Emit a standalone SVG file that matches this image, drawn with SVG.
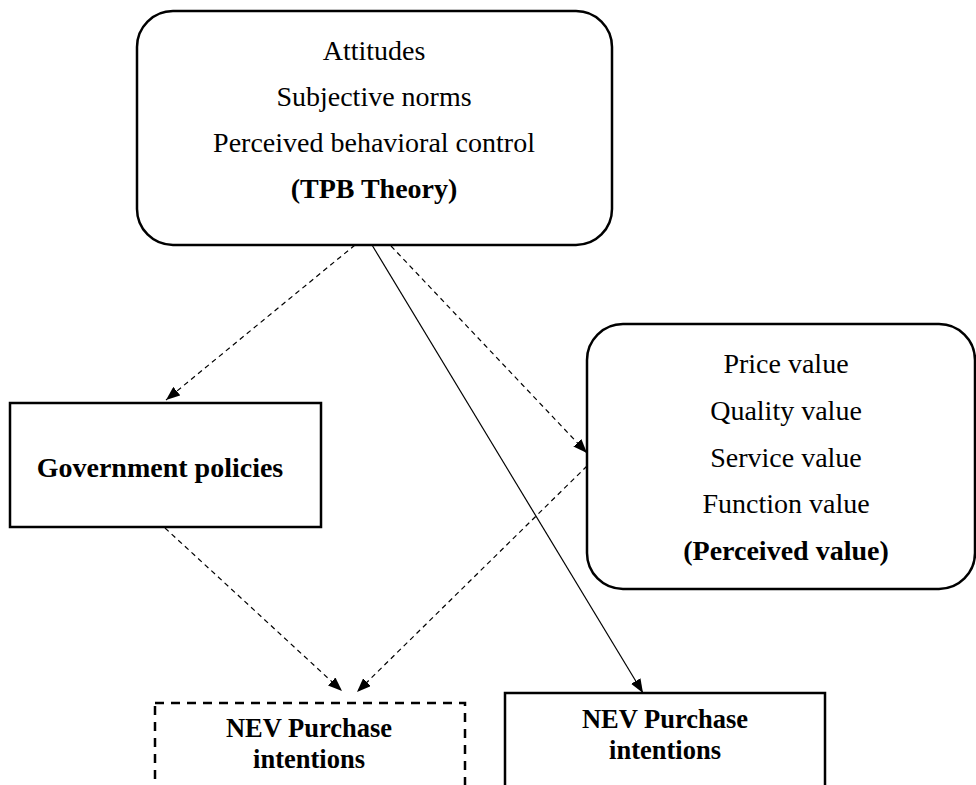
<svg xmlns="http://www.w3.org/2000/svg" width="976" height="785" viewBox="0 0 976 785">
<style>
.box{fill:#fff;stroke:#000;stroke-width:2.5}
.dbox{fill:#fff;stroke:#000;stroke-width:2.5;stroke-dasharray:9 7}
.t{font-family:"Liberation Serif",serif;font-size:28px;fill:#000;text-anchor:middle}
.b{font-weight:bold}
.n{font-family:"Liberation Serif",serif;font-size:26.5px;font-weight:bold;fill:#000;text-anchor:middle}
.c{fill:none;stroke:#000;stroke-width:1.2}
.d{stroke-dasharray:5 4}
</style>
<defs>
<marker id="ah" viewBox="0 0 14 11" refX="14" refY="5.5" markerWidth="14" markerHeight="11" markerUnits="userSpaceOnUse" orient="auto">
<path d="M0,0 L14,5.5 L0,11 z" fill="#000"/>
</marker>
</defs>
<g id="tpb">
<rect class="box" x="137" y="11" width="475" height="234" rx="36" ry="36"/>
<text class="t" x="374" y="60">Attitudes</text>
<text class="t" x="374" y="106">Subjective norms</text>
<text class="t" x="374" y="152">Perceived behavioral control</text>
<text class="t b" x="374" y="198">(TPB Theory)</text>
</g>
<g id="perceived">
<rect class="box" x="587" y="324" width="388" height="265" rx="36" ry="36"/>
<text class="t" x="786" y="373">Price value</text>
<text class="t" x="786" y="420">Quality value</text>
<text class="t" x="786" y="467">Service value</text>
<text class="t" x="786" y="513">Function value</text>
<text class="t b" x="786" y="560">(Perceived value)</text>
</g>
<g id="gov">
<rect class="box" x="10" y="403" width="311" height="124"/>
<text class="t b" x="160" y="477">Government policies</text>
</g>
<g id="nev1">
<rect class="dbox" x="155" y="703" width="310" height="120"/>
<text class="n" x="309" y="737">NEV Purchase</text>
<text class="n" x="309" y="768">intentions</text>
</g>
<g id="nev2">
<rect class="box" x="505" y="693" width="320" height="120"/>
<text class="n" x="665" y="728">NEV Purchase</text>
<text class="n" x="665" y="759">intentions</text>
</g>
<g id="connectors">
<line class="c d" x1="355" y1="245" x2="166" y2="400" marker-end="url(#ah)"/>
<line class="c" x1="372" y1="245" x2="643" y2="693" marker-end="url(#ah)"/>
<line class="c d" x1="391" y1="246" x2="587" y2="453" marker-end="url(#ah)"/>
<line class="c d" x1="587" y1="466" x2="357" y2="692" marker-end="url(#ah)"/>
<line class="c d" x1="165" y1="528" x2="342" y2="691" marker-end="url(#ah)"/>
</g>
</svg>
